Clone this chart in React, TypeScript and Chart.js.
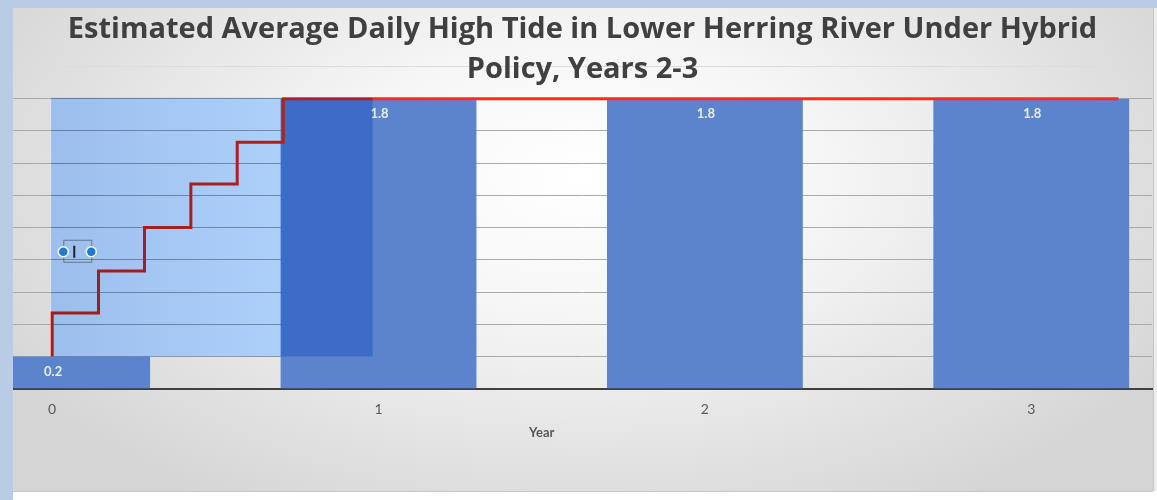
import React, { useEffect, useRef } from 'react';
import { Chart, registerables } from 'chart.js';

Chart.register(...registerables);

// ---- data ----
const titleLines = ['Estimated Average Daily High Tide in Lower Herring River Under Hybrid', 'Policy, Years 2-3'];
const xAxisTitle = 'Year';
const years = [0, 1, 2, 3];
const tideHeights = [0.2, 1.8, 1.8, 1.8];
const barValueLabels = ['0.2', '1.8', '1.8', '1.8'];
const stepYears = [0, 0, 0.142, 0.142, 0.283, 0.283, 0.425, 0.425, 0.567, 0.567, 0.708, 0.708, 3.267];
const stepTide = [0.2, 0.47, 0.47, 0.73, 0.73, 1.0, 1.0, 1.27, 1.27, 1.53, 1.53, 1.8, 1.8];
const xTickValues = [0, 1, 2, 3];
const yTickValues = [0, 0.2, 0.4, 0.6, 0.8, 1.0, 1.2, 1.4, 1.6, 1.8, 2.0];
const overlayYears = [0, 0.982];
const overlayTide = [0.2, 1.8];
const textBoxAnchor = [0.034, 0.85];

const FONT = 'Lato, "Open Sans", sans-serif';
const TITLE_FONT = '"Open Sans", Lato, sans-serif';

const decorPlugin = {
  id: 'decor',
  afterDatasetsDraw(chart: any) {
    const { ctx, scales } = chart;
    const xs = scales.x;
    const ys = scales.y;
    const area = chart.chartArea;
    ctx.save();
    // bar value labels
    ctx.font = `bold 13px ${FONT}`;
    ctx.fillStyle = 'rgba(240,244,252,0.95)';
    ctx.textAlign = 'center';
    ctx.textBaseline = 'middle';
    years.forEach((yr, i) => {
      const px = xs.getPixelForValue(yr);
      const py = ys.getPixelForValue(tideHeights[i]);
      ctx.fillText(barValueLabels[i], px + 1, py + 15.5);
    });
    // translucent selection overlay (multiply tint)
    ctx.beginPath();
    ctx.rect(area.left, area.top, area.right - area.left, area.bottom - area.top);
    ctx.clip();
    const x0 = xs.getPixelForValue(overlayYears[0]) - 1;
    const x1 = xs.getPixelForValue(overlayYears[1]);
    const y0 = ys.getPixelForValue(overlayTide[1]) - 1;
    const y1 = ys.getPixelForValue(overlayTide[0]);
    const g = ctx.createLinearGradient(x0, 0, x1, 0);
    g.addColorStop(0, 'rgb(156,190,238)');
    g.addColorStop(0.7, 'rgb(172,208,250)');
    g.addColorStop(1, 'rgb(172,208,250)');
    ctx.globalCompositeOperation = 'multiply';
    ctx.fillStyle = g;
    ctx.fillRect(x0, y0, x1 - x0, y1 - y0);
    ctx.globalCompositeOperation = 'source-over';
    // small text box with handles
    const bx = xs.getPixelForValue(textBoxAnchor[0]);
    const by = ys.getPixelForValue(textBoxAnchor[1]);
    ctx.strokeStyle = 'rgba(90,100,120,0.8)';
    ctx.lineWidth = 1;
    ctx.strokeRect(bx + 0.5, by - 11.5, 28, 22);
    ctx.strokeStyle = '#222';
    ctx.lineWidth = 2;
    ctx.beginPath();
    ctx.moveTo(bx + 11, by - 6);
    ctx.lineTo(bx + 11, by + 6);
    ctx.stroke();
    [bx, bx + 28].forEach((cx) => {
      ctx.beginPath();
      ctx.arc(cx, by, 5, 0, Math.PI * 2);
      ctx.fillStyle = '#1f78d4';
      ctx.fill();
      ctx.strokeStyle = '#ffffff';
      ctx.lineWidth = 1.5;
      ctx.stroke();
    });
    ctx.restore();
  },
  afterDraw(chart: any) {
    const { ctx, scales } = chart;
    const xs = scales.x;
    const mid = (xTickValues[0] + xTickValues[xTickValues.length - 1]) / 2;
    ctx.save();
    ctx.font = `bold 13px ${FONT}`;
    ctx.fillStyle = '#595959';
    ctx.textAlign = 'center';
    ctx.textBaseline = 'middle';
    ctx.fillText(xAxisTitle, xs.getPixelForValue(mid), chart.chartArea.bottom + 44.5);
    ctx.restore();
  },
};

export default function App() {
  const ref = useRef<HTMLCanvasElement | null>(null);
  useEffect(() => {
    if (!ref.current) return;
    const chart = new Chart(ref.current, {
      type: 'bar',
      data: {
        datasets: [
          {
            type: 'line',
            label: 'Step',
            data: stepYears.map((x, i) => ({ x, y: stepTide[i] })),
            borderColor: '#ff2a1c',
            borderWidth: 3,
            pointRadius: 0,
            tension: 0,
            borderJoinStyle: 'miter',
            order: 1,
          } as any,
          {
            type: 'bar',
            label: 'High tide',
            data: years.map((x, i) => ({ x, y: tideHeights[i] })),
            backgroundColor: '#5b84cc',
            barPercentage: 0.6,
            categoryPercentage: 1,
            order: 2,
          } as any,
        ],
      },
      options: {
        responsive: false,
        animation: false,
        layout: { padding: { left: 0, right: 1, top: 0, bottom: 61.5 } },
        plugins: {
          legend: { display: false },
          tooltip: { enabled: false },
          title: {
            display: true,
            text: titleLines,
            color: '#404040',
            font: { family: TITLE_FONT, size: 29, weight: 'bold', lineHeight: 40 / 29 },
            padding: { top: 2, bottom: -23.5 },
          },
        },
        scales: {
          x: {
            type: 'linear',
            min: -0.12,
            max: 3.37,
            offset: false,
            afterBuildTicks: (s: any) => {
              s.ticks = xTickValues.map((v) => ({ value: v }));
            },
            ticks: {
              color: '#595959',
              font: { family: FONT, size: 14 },
              padding: 12,
              callback: (v: any) => String(v),
            },
            grid: { display: false, drawTicks: false, offset: false },
            border: { display: true, color: '#404040', width: 2 },
          },
          y: {
            type: 'linear',
            min: 0,
            max: 2,
            afterBuildTicks: (s: any) => {
              s.ticks = yTickValues.map((v) => ({ value: v }));
            },
            ticks: { display: false },
            grid: {
              drawTicks: false,
              color: (c: any) => (c.tick && c.tick.value >= 1.99 ? '#dcdcdc' : '#a9a9a9'),
              lineWidth: 1,
            },
            border: { display: false },
          },
        },
      } as any,
      plugins: [decorPlugin],
    });
    return () => chart.destroy();
  }, []);

  return (
    <div style={{ position: 'fixed', left: 0, top: 0, width: 1157, height: 500, background: '#ffffff', overflow: 'hidden' }}>
      <div style={{ position: 'absolute', left: 0, top: 0, width: 1157, height: 8, background: '#b8cce6' }} />
      <div style={{ position: 'absolute', left: 0, top: 0, width: 13, height: 500, background: '#b8cce6' }} />
      <div style={{ position: 'absolute', left: 1153, top: 8, width: 4, height: 483, background: '#ededed', borderLeft: '1px solid #c6c6c6' }} />
      <div
        style={{
          position: 'absolute',
          left: 13,
          top: 8,
          width: 1140,
          height: 483,
          background: 'radial-gradient(ellipse 60% 80% at 50% 35%, #ffffff 0%, #f6f6f6 35%, #e0e0e0 78%, #d5d5d5 100%)',
          borderBottom: '1px solid #c8c8c8',
        }}
      >
        <canvas ref={ref} width={1140} height={483} style={{ display: 'block' }} />
      </div>
    </div>
  );
}
